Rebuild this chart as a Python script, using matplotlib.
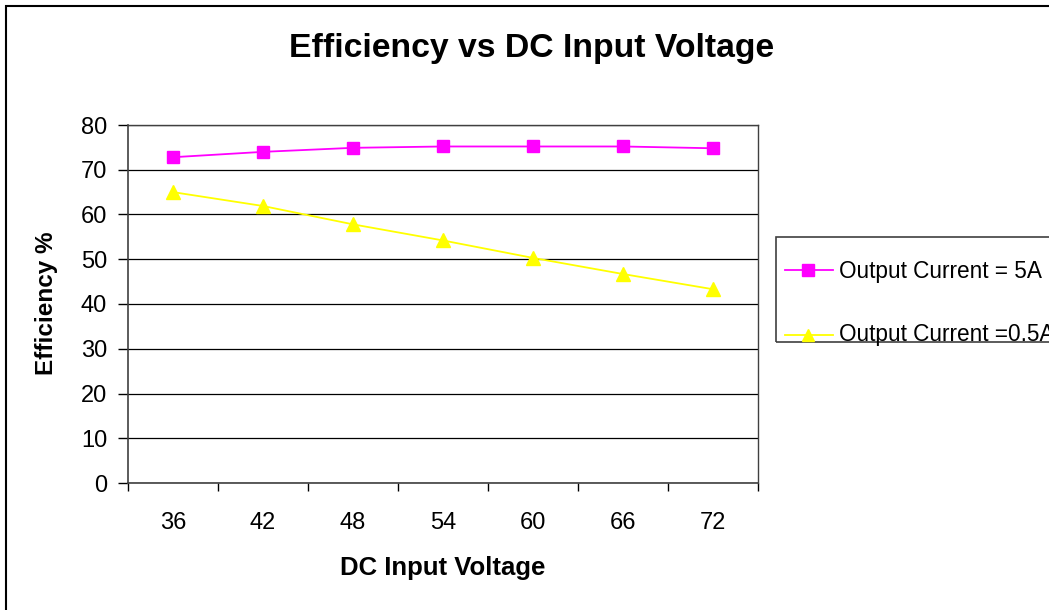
import matplotlib
matplotlib.use("Agg")
import matplotlib.pyplot as plt
from matplotlib.lines import Line2D
from matplotlib.patches import Rectangle

plt.rcParams['font.family'] = ['Liberation Sans', 'DejaVu Sans']

voltages = ["36", "42", "48", "54", "60", "66", "72"]
eff_5A = [72.8, 74.0, 74.9, 75.2, 75.2, 75.2, 74.8]
eff_05A = [65.0, 61.9, 57.8, 54.2, 50.3, 46.7, 43.3]
series_labels = ["Output Current = 5A", "Output Current =0.5A"]
yticks = [0, 10, 20, 30, 40, 50, 60, 70, 80]

W, H = 1049, 610
fig = plt.figure(figsize=(W / 100, H / 100), dpi=100)

def fx(px):
    return px / W

def fy(py):
    return 1 - py / H

# outer chart border (left and top visible, right/bottom clipped as in the reference)
fig.add_artist(Rectangle((fx(6), -0.1), 1.2, fy(6) + 0.1, transform=fig.transFigure,
                         fill=False, edgecolor='black', linewidth=1.5))

ax = fig.add_axes([fx(128), fy(483), fx(758 - 128), (483 - 125) / H])
x = list(range(len(voltages)))

ax.plot(x, eff_5A, color='#FF00FF', marker='s', markersize=9, linewidth=1.3,
        label=series_labels[0], zorder=3)
ax.plot(x, eff_05A, color='#FFFF00', marker='^', markersize=9.5, linewidth=1.3,
        label=series_labels[1], zorder=3)

ax.set_xlim(-0.5, len(voltages) - 0.5)
ax.set_ylim(0, 80)
ax.set_yticks(yticks)
ax.set_yticklabels([str(v) for v in yticks], fontsize=17)
ax.set_xticks([i - 0.5 for i in range(len(voltages) + 1)])
ax.set_xticklabels([])
ax.set_xticks(x, minor=True)
ax.set_xticklabels(voltages, minor=True, fontsize=17)
ax.tick_params(axis='x', which='major', direction='out', length=6, width=1, color='black')
ax.tick_params(axis='x', which='minor', length=0, pad=21)
ax.tick_params(axis='y', direction='out', length=7, width=1, color='black', pad=8)

ax.yaxis.grid(True, color='black', linewidth=0.9)
ax.set_axisbelow(True)
for s in ['top', 'right']:
    ax.spines[s].set_color('#404040')
    ax.spines[s].set_linewidth(1.0)
for s in ['left', 'bottom']:
    ax.spines[s].set_color('#404040')
    ax.spines[s].set_linewidth(1.2)

fig.text(fx(443), fy(575), "DC Input Voltage", fontsize=18.5, fontweight='bold',
         ha='center', va='baseline')
fig.text(fx(47), fy(303), "Efficiency %", fontsize=17.5, fontweight='bold',
         ha='center', va='center', rotation=90)

fig.text(fx(532), fy(57), "Efficiency vs DC Input Voltage", fontsize=24.3,
         fontweight='bold', ha='center', va='baseline')

# legend box
fig.add_artist(Rectangle((fx(776), fy(342)), 0.3, (342 - 237) / H,
                         transform=fig.transFigure, fill=False, edgecolor='#404040', linewidth=1.2))
leg_rows = [(270, 278, '#FF00FF', 's', 8, series_labels[0]),
            (335, 341, '#FFFF00', '^', 9, series_labels[1])]
for ly, by, col, mk, ms, lab in leg_rows:
    yf = fy(ly)
    fig.add_artist(Line2D([fx(785), fx(833)], [yf, yf], transform=fig.transFigure,
                          color=col, linewidth=1.3))
    fig.add_artist(Line2D([fx(808)], [yf], transform=fig.transFigure, color=col,
                          marker=mk, markersize=ms, linestyle='none'))
    fig.text(fx(839), fy(by), lab, fontsize=16.3, ha='left', va='baseline')

fig.savefig("out.png", dpi=100)
